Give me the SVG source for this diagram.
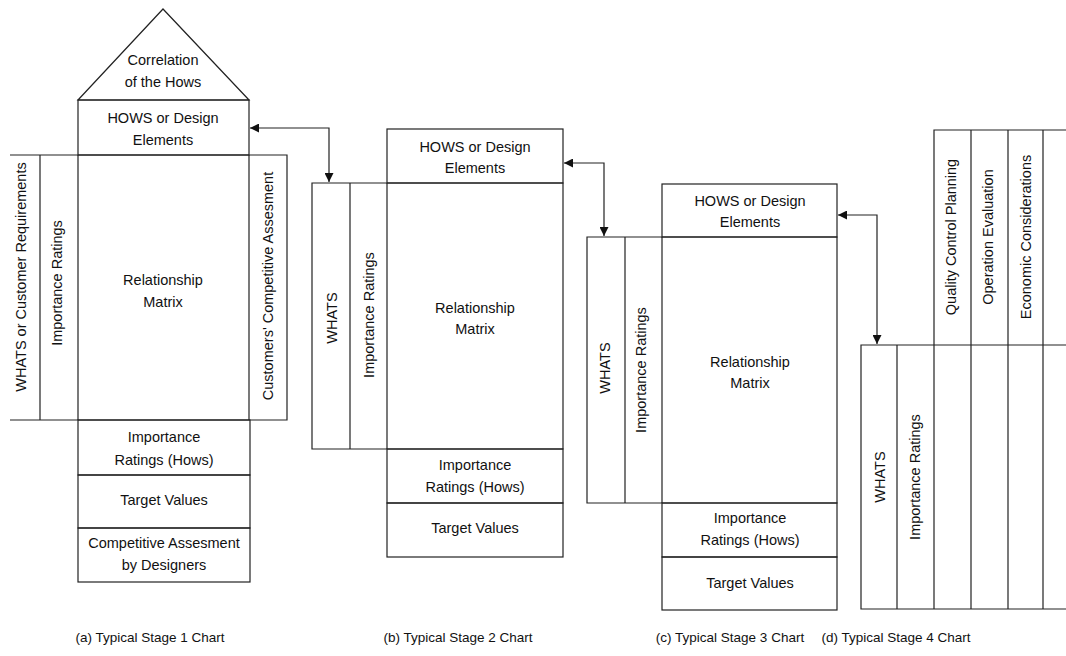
<svg xmlns="http://www.w3.org/2000/svg" width="1066" height="656" viewBox="0 0 1066 656">
<defs>
<style>
.ln{fill:none;stroke:#222;stroke-width:1.2}
.t{font-family:"Liberation Sans",Arial,sans-serif;font-size:14.5px;fill:#111;text-anchor:middle;dominant-baseline:central}
.cap{font-family:"Liberation Sans",Arial,sans-serif;font-size:13.5px;fill:#111;text-anchor:middle;dominant-baseline:central}
</style>
<marker id="ah" viewBox="0 0 10 10" refX="10" refY="5" markerWidth="12" markerHeight="9" markerUnits="userSpaceOnUse" orient="auto-start-reverse">
<path d="M0,0 L10,5 L0,10 z" fill="#111"/>
</marker>
</defs>
<rect width="1066" height="656" fill="#fff"/>

<g id="stage1">
<path class="ln" d="M78,100 L163,9 L249,100 Z"/>
<rect class="ln" x="78" y="100" width="171" height="55"/>
<path class="ln" d="M10,155 H287 V420 H10 M40,155 V420 M78,155 V420 M249,155 V420"/>
<rect class="ln" x="78" y="420" width="172" height="55"/>
<rect class="ln" x="78" y="475" width="172" height="53"/>
<rect class="ln" x="78" y="528" width="172" height="54"/>
<text class="t" x="163" y="60">Correlation</text>
<text class="t" x="163" y="82">of the Hows</text>
<text class="t" x="163" y="118">HOWS or Design</text>
<text class="t" x="163" y="140">Elements</text>
<text class="t" x="163" y="280">Relationship</text>
<text class="t" x="163" y="302">Matrix</text>
<text class="t" transform="rotate(-90 21 277)" x="21" y="277">WHATS or Customer Requirements</text>
<text class="t" transform="rotate(-90 57 283)" x="57" y="283">Importance Ratings</text>
<text class="t" transform="rotate(-90 268 286)" x="268" y="286">Customers' Competitive Assesment</text>
<text class="t" x="164" y="437">Importance</text>
<text class="t" x="164" y="460">Ratings (Hows)</text>
<text class="t" x="164" y="500">Target Values</text>
<text class="t" x="164" y="543">Competitive Assesment</text>
<text class="t" x="164" y="565">by Designers</text>
</g>

<g id="stage2">
<rect class="ln" x="387" y="129" width="176" height="54"/>
<path class="ln" d="M312,183 H563 V449 H312 Z M350,183 V449 M387,183 V449"/>
<rect class="ln" x="387" y="449" width="176" height="54"/>
<rect class="ln" x="387" y="503" width="176" height="54"/>
<text class="t" x="475" y="147">HOWS or Design</text>
<text class="t" x="475" y="168">Elements</text>
<text class="t" transform="rotate(-90 332 318)" x="332" y="318">WHATS</text>
<text class="t" transform="rotate(-90 369 315)" x="369" y="315">Importance Ratings</text>
<text class="t" x="475" y="308">Relationship</text>
<text class="t" x="475" y="329">Matrix</text>
<text class="t" x="475" y="465">Importance</text>
<text class="t" x="475" y="487">Ratings (Hows)</text>
<text class="t" x="475" y="528">Target Values</text>
</g>

<g id="stage3">
<rect class="ln" x="662" y="184" width="175" height="53"/>
<path class="ln" d="M587,237 H837 V503 H587 Z M625,237 V503 M662,237 V503"/>
<rect class="ln" x="662" y="503" width="175" height="54"/>
<rect class="ln" x="662" y="557" width="175" height="53"/>
<text class="t" x="750" y="201">HOWS or Design</text>
<text class="t" x="750" y="222">Elements</text>
<text class="t" transform="rotate(-90 605 368)" x="605" y="368">WHATS</text>
<text class="t" transform="rotate(-90 641 370)" x="641" y="370">Importance Ratings</text>
<text class="t" x="750" y="362">Relationship</text>
<text class="t" x="750" y="383">Matrix</text>
<text class="t" x="750" y="518">Importance</text>
<text class="t" x="750" y="540">Ratings (Hows)</text>
<text class="t" x="750" y="583">Target Values</text>
</g>

<g id="stage4">
<path class="ln" d="M1066,130 H934 V609 M971,130 V609 M1008,130 V609 M1043,130 V609 M1066,345 H861 V609 H1066 M897,345 V609"/>
<text class="t" transform="rotate(-90 951 237)" x="951" y="237">Quality Control Planning</text>
<text class="t" transform="rotate(-90 988 237)" x="988" y="237">Operation Evaluation</text>
<text class="t" transform="rotate(-90 1026 237)" x="1026" y="237">Economic Considerations</text>
<text class="t" transform="rotate(-90 880 477)" x="880" y="477">WHATS</text>
<text class="t" transform="rotate(-90 915 477)" x="915" y="477">Importance Ratings</text>
</g>

<g id="connectors">
<path class="ln" d="M250,128 H329 V182" marker-start="url(#ah)" marker-end="url(#ah)"/>
<path class="ln" d="M564,163 H604 V236" marker-start="url(#ah)" marker-end="url(#ah)"/>
<path class="ln" d="M838,215 H877 V344" marker-start="url(#ah)" marker-end="url(#ah)"/>
</g>

<g id="captions">
<text class="cap" x="150" y="637">(a) Typical Stage 1 Chart</text>
<text class="cap" x="458" y="637">(b) Typical Stage 2 Chart</text>
<text class="cap" x="730" y="637">(c) Typical Stage 3 Chart</text>
<text class="cap" x="896" y="637">(d) Typical Stage 4 Chart</text>
</g>
</svg>
